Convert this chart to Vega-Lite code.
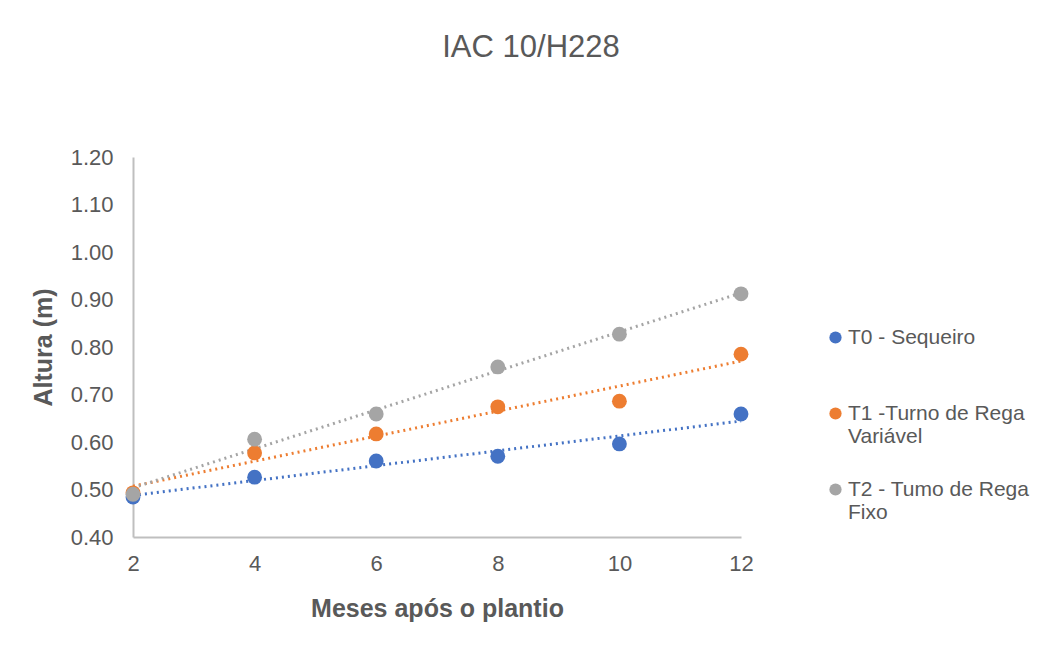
{
  "$schema": "https://vega.github.io/schema/vega-lite/v6.json",
  "width": 608,
  "height": 380,
  "autosize": {"type": "none"},
  "padding": {"left": 133, "top": 157, "right": 303, "bottom": 131},
  "background": "white",
  "title": {
    "text": "IAC 10/H228",
    "anchor": "middle",
    "frame": "group",
    "dx": 94,
    "offset": 58,
    "baseline": "alphabetic",
    "font": "Liberation Sans",
    "fontSize": 31,
    "fontWeight": "normal",
    "color": "#595959"
  },
  "data": {
    "values": [
      {"serie": "T0 - Sequeiro", "mes": 2, "altura": 0.484},
      {"serie": "T0 - Sequeiro", "mes": 4, "altura": 0.526},
      {"serie": "T0 - Sequeiro", "mes": 6, "altura": 0.560},
      {"serie": "T0 - Sequeiro", "mes": 8, "altura": 0.570},
      {"serie": "T0 - Sequeiro", "mes": 10, "altura": 0.596},
      {"serie": "T0 - Sequeiro", "mes": 12, "altura": 0.659},
      {"serie": "T1 -Turno de Rega Variável", "mes": 2, "altura": 0.493},
      {"serie": "T1 -Turno de Rega Variável", "mes": 4, "altura": 0.577},
      {"serie": "T1 -Turno de Rega Variável", "mes": 6, "altura": 0.617},
      {"serie": "T1 -Turno de Rega Variável", "mes": 8, "altura": 0.674},
      {"serie": "T1 -Turno de Rega Variável", "mes": 10, "altura": 0.686},
      {"serie": "T1 -Turno de Rega Variável", "mes": 12, "altura": 0.785},
      {"serie": "T2 - Tumo de Rega Fixo", "mes": 2, "altura": 0.490},
      {"serie": "T2 - Tumo de Rega Fixo", "mes": 4, "altura": 0.606},
      {"serie": "T2 - Tumo de Rega Fixo", "mes": 6, "altura": 0.659},
      {"serie": "T2 - Tumo de Rega Fixo", "mes": 8, "altura": 0.758},
      {"serie": "T2 - Tumo de Rega Fixo", "mes": 10, "altura": 0.827},
      {"serie": "T2 - Tumo de Rega Fixo", "mes": 12, "altura": 0.912}
    ]
  },
  "layer": [
    {
      "transform": [
        {"regression": "altura", "on": "mes", "groupby": ["serie"], "method": "linear", "extent": [2, 12]}
      ],
      "mark": {"type": "line", "strokeWidth": 3, "strokeDash": [2, 4], "strokeCap": "butt"},
      "encoding": {
        "x": {"field": "mes", "type": "quantitative"},
        "y": {"field": "altura", "type": "quantitative"},
        "color": {"field": "serie", "type": "nominal"}
      }
    },
    {
      "mark": {"type": "point", "filled": true, "opacity": 1, "size": 220},
      "encoding": {
        "x": {
          "field": "mes",
          "type": "quantitative",
          "scale": {"domain": [2, 12], "nice": false, "zero": false},
          "axis": {
            "values": [2, 4, 6, 8, 10, 12],
            "format": "d",
            "title": "Meses após o plantio",
            "grid": false,
            "ticks": false,
            "labelFlush": false,
            "labelPadding": 16,
            "titlePadding": 22
          }
        },
        "y": {
          "field": "altura",
          "type": "quantitative",
          "scale": {"domain": [0.4, 1.2], "nice": false, "zero": false},
          "axis": {
            "values": [0.4, 0.5, 0.6, 0.7, 0.8, 0.9, 1.0, 1.1, 1.2],
            "format": ".2f",
            "title": "Altura (m)",
            "grid": false,
            "ticks": false,
            "labelFlush": false,
            "labelPadding": 20,
            "titlePadding": 14
          }
        },
        "color": {
          "field": "serie",
          "type": "nominal",
          "scale": {
            "domain": ["T0 - Sequeiro", "T1 -Turno de Rega Variável", "T2 - Tumo de Rega Fixo"],
            "range": ["#4472C4", "#ED7D31", "#A5A5A5"]
          },
          "legend": {
            "title": null,
            "orient": "none",
            "legendX": 692,
            "legendY": 170,
            "symbolType": "circle",
            "symbolSize": 150,
            "symbolStrokeWidth": 0,
            "symbolDash": [],
            "labelFontSize": 21,
            "labelColor": "#595959",
            "labelFont": "Liberation Sans",
            "labelLimit": 300,
            "labelOffset": 2,
            "gridAlign": "all",
            "rowPadding": 31,
            "labelBaseline": "middle",
            "labelExpr": "datum.label == 'T1 -Turno de Rega Variável' ? ['T1 -Turno de Rega', 'Variável'] : datum.label == 'T2 - Tumo de Rega Fixo' ? ['T2 - Tumo de Rega', 'Fixo'] : datum.label"
          }
        }
      }
    }
  ],
  "config": {
    "view": {"stroke": null},
    "axis": {
      "domainColor": "#BFBFBF",
      "domainWidth": 2,
      "labelFont": "Liberation Sans",
      "labelFontSize": 22,
      "labelColor": "#595959",
      "titleFont": "Liberation Sans",
      "titleFontSize": 25,
      "titleFontWeight": "bold",
      "titleColor": "#595959"
    }
  }
}
